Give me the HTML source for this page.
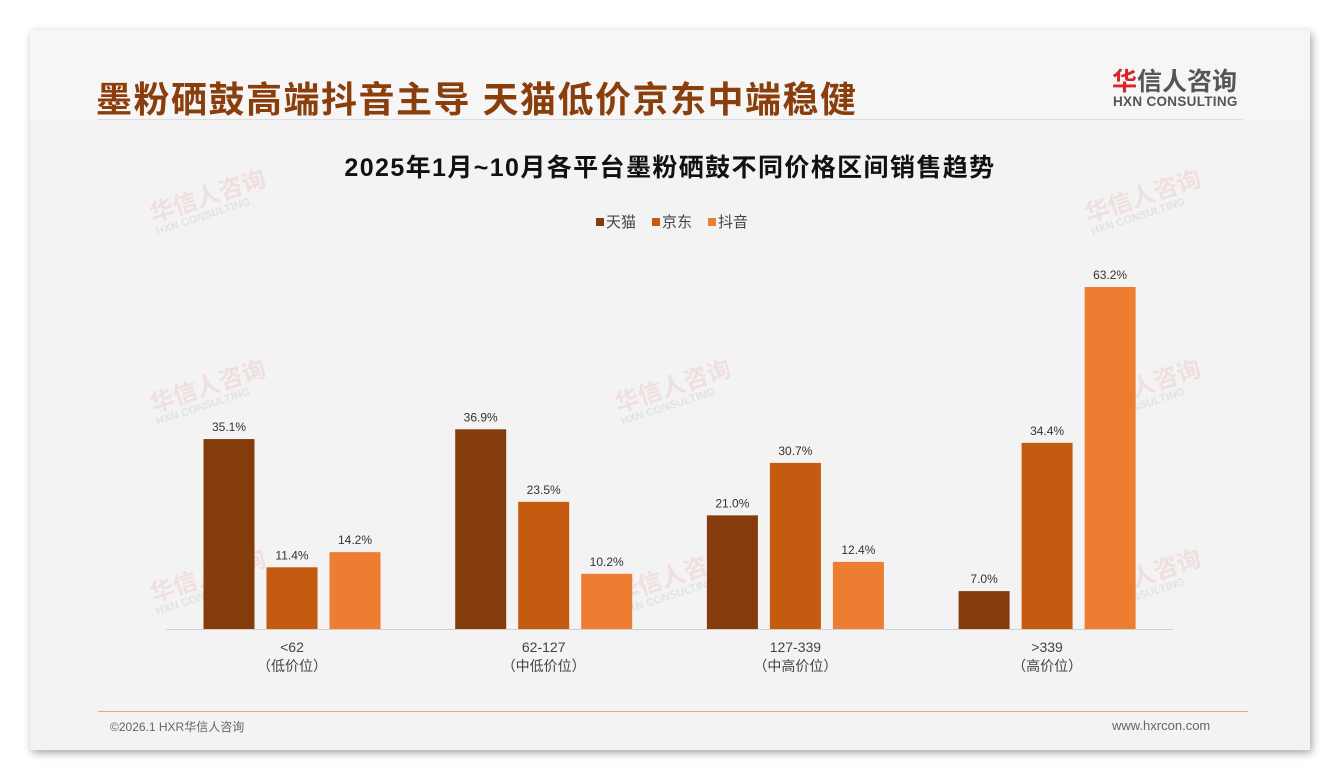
<!DOCTYPE html>
<html><head><meta charset="utf-8"><style>
body{margin:0;width:1340px;height:780px;background:#fff;font-family:"Liberation Sans","Noto Sans CJK SC",sans-serif;position:relative;overflow:hidden}
#card{position:absolute;left:30px;top:30px;width:1280px;height:720px;background:#f3f3f3;box-shadow:2px 3px 8px rgba(0,0,0,.35)}
#head{position:absolute;left:0;top:0;width:1280px;height:90px;background:#f6f6f6}
.wm{position:absolute;color:rgba(220,80,80,.12);font-weight:bold;font-size:24px;transform:rotate(-18deg);line-height:1}
.wm small{display:block;font-size:11px;color:rgba(150,150,150,.18)}
</style></head><body>
<div id="card">
<div id="head"></div>
<div style="position:absolute;left:66px;top:41px;font-size:36px;letter-spacing:1.5px;font-weight:bold;color:#8a3e0c;white-space:nowrap">墨粉硒鼓高端抖音主导 天猫低价京东中端稳健</div>
<div style="position:absolute;left:68px;top:89px;width:1145px;height:1px;background:#ddd"></div>
<div style="position:absolute;left:1082px;top:32px;font-size:25px;font-weight:bold;color:#555"><span style="color:#d9262a">华</span>信人咨询</div>
<div style="position:absolute;left:1083px;top:64px;font-size:13.5px;font-weight:bold;color:#555;letter-spacing:.3px">HXN CONSULTING</div>
<div style="position:absolute;left:68px;top:681px;width:1150px;height:1px;background:#e8a878"></div>
<div style="position:absolute;left:80px;top:688px;font-size:12px;color:#666">©2026.1 HXR华信人咨询</div>
<div style="position:absolute;left:1082px;top:688px;font-size:13px;color:#666">www.hxrcon.com</div>
</div>
<div class="wm" style="left:150px;top:185px">华信人咨询<small>HXN CONSULTING</small></div>
<div class="wm" style="left:150px;top:375px">华信人咨询<small>HXN CONSULTING</small></div>
<div class="wm" style="left:150px;top:565px">华信人咨询<small>HXN CONSULTING</small></div>
<div class="wm" style="left:615px;top:375px">华信人咨询<small>HXN CONSULTING</small></div>
<div class="wm" style="left:615px;top:565px">华信人咨询<small>HXN CONSULTING</small></div>
<div class="wm" style="left:1085px;top:185px">华信人咨询<small>HXN CONSULTING</small></div>
<div class="wm" style="left:1085px;top:375px">华信人咨询<small>HXN CONSULTING</small></div>
<div class="wm" style="left:1085px;top:565px">华信人咨询<small>HXN CONSULTING</small></div>
<svg id="chart" width="1340" height="780" style="position:absolute;left:0;top:0">
<text x="670" y="176" text-anchor="middle" font-size="25" letter-spacing="1.4" font-weight="bold" fill="#111">2025年1月~10月各平台墨粉硒鼓不同价格区间销售趋势</text>
</svg>
<script>
const categories=["<62","62-127","127-339",">339"];
const subLabels=["（低价位）","（中低价位）","（中高价位）","（高价位）"];
const seriesNames=["天猫","京东","抖音"];
const tmall=[35.1,36.9,21.0,7.0];
const jd=[11.4,23.5,30.7,34.4];
const douyin=[14.2,10.2,12.4,63.2];
const series=[tmall,jd,douyin];
const colors=["#843c0c","#c55a11","#ed7d31"];
const svg=document.getElementById('chart');
const NS='http://www.w3.org/2000/svg';
const base=629,pxPer=342/63.2;
const y=v=>base-v*pxPer;
const xc=i=>292+i*251.7;
function mk(t,a){const e=document.createElementNS(NS,t);for(const k in a)e.setAttribute(k,a[k]);svg.appendChild(e);return e;}
const ax=mk('line',{x1:166,x2:1173,y1:base+0.5,y2:base+0.5,stroke:'#d0d0d0'});


categories.forEach((c,i)=>{
  series.forEach((s,j)=>{
    const bx=xc(i)+(j-1)*63-25.5;
    const r=mk('rect',{x:bx,y:y(s[i]),width:51,height:base-y(s[i]),fill:colors[j]});
    
    
    const t=mk('text',{x:bx+25.5,y:y(s[i])-8,'text-anchor':'middle','font-size':12,fill:'#333'});
    t.textContent=s[i].toFixed(1)+'%';
    
    
  });
  const l=mk('text',{x:xc(i),y:652,'text-anchor':'middle','font-size':14,fill:'#444'});
  l.textContent=c;
  
  
  const l2=mk('text',{x:xc(i),y:671,'text-anchor':'middle','font-size':14,fill:'#444'});
  l2.textContent=subLabels[i];
  
  
});
const lx=[596,652,708];
seriesNames.forEach((n,j)=>{
  const r=mk('rect',{x:lx[j],y:218,width:8,height:8,fill:colors[j]});
  
  
  const t=mk('text',{x:lx[j]+10,y:227,'font-size':15,fill:'#444'});
  t.textContent=n;
  
  
});
</script>
</body></html>
